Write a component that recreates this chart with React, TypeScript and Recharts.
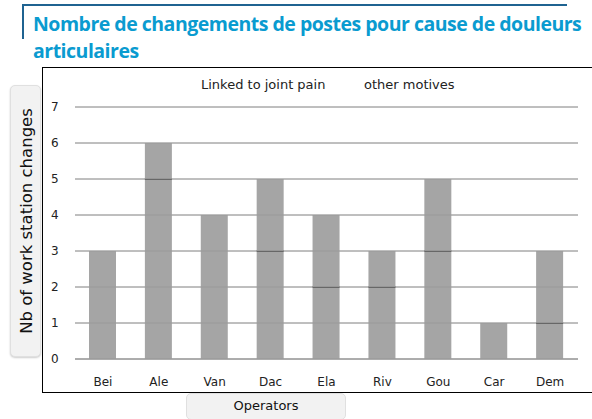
import React from "react";
import { BarChart, Bar, XAxis, YAxis, CartesianGrid } from "recharts";

const operators = ["Bei", "Ale", "Van", "Dac", "Ela", "Riv", "Gou", "Car", "Dem"];
const jointPain = [3, 5, 4, 3, 2, 2, 3, 1, 1];
const otherMotives = [0, 1, 0, 2, 2, 1, 2, 0, 2];
const yTicks = [0, 1, 2, 3, 4, 5, 6, 7];
const seriesNames = ["Linked to joint pain", "other motives"];

const data = operators.map((name, i) => ({
  name,
  joint: jointPain[i],
  other: otherMotives[i],
}));

const BAR = "#9b9b9b";
const FONT = "'DejaVu Sans', Verdana, sans-serif";

// bottom segment: gray block with a dark edge where the upper segment starts
const JointShape = (props: any) => {
  const { x, y, width, height, payload } = props;
  if (!height) return null;
  return (
    <g>
      <rect x={x} y={y} width={width} height={height} fill={BAR} fillOpacity={0.9} />
      {payload.other > 0 && (
        <line x1={x} x2={x + width} y1={y} y2={y} stroke="#555" strokeWidth={1.5} />
      )}
    </g>
  );
};

const OtherShape = (props: any) => {
  const { x, y, width, height } = props;
  if (!height) return null;
  return <rect x={x} y={y} width={width} height={height} fill={BAR} fillOpacity={0.9} />;
};

export default function App() {
  return (
    <div style={{ position: "absolute", left: 0, top: 0, width: 592, height: 419, background: "#fff", overflow: "hidden" }}>
      {/* title frame */}
      <div style={{ position: "absolute", left: 22, top: 4, width: 543, height: 33, borderTop: "2px solid #1f6391", borderLeft: "2px solid #1f6391" }} />
      <div
        style={{
          position: "absolute",
          left: 33,
          top: 10,
          width: 570,
          fontFamily: "'Open Sans', sans-serif",
          fontWeight: 700,
          fontSize: 19.5,
          lineHeight: "27px",
          color: "#0a9bd0",
          letterSpacing: -0.5,
        }}
      >
        Nombre de changements de postes pour cause de douleurs articulaires
      </div>

      {/* chart frame */}
      <div style={{ position: "absolute", left: 42, top: 67, width: 560, height: 324, borderTop: "1px solid #000", borderLeft: "1px solid #000", borderBottom: "1px solid #000" }} />

      {/* legend */}
      <div style={{ position: "absolute", left: 201, top: 77, fontFamily: FONT, fontSize: 13, color: "#222", whiteSpace: "nowrap" }}>
        {seriesNames[0]}
      </div>
      <div style={{ position: "absolute", left: 364, top: 77, fontFamily: FONT, fontSize: 13, color: "#222", whiteSpace: "nowrap" }}>
        {seriesNames[1]}
      </div>

      {/* y axis label box */}
      <div
        style={{
          position: "absolute",
          left: 10,
          top: 85,
          width: 31,
          height: 272,
          background: "#f2f2f2",
          border: "1px solid #e0e0e0",
          borderRadius: 5,
          boxShadow: "0 1px 2px rgba(0,0,0,0.2)",
          boxSizing: "border-box",
        }}
      >
        <div
          style={{
            position: "absolute",
            left: 15,
            top: 135,
            transform: "translate(-50%, -50%) rotate(-90deg)",
            whiteSpace: "nowrap",
            fontFamily: FONT,
            fontSize: 16.5,
            color: "#111",
          }}
        >
          Nb of work station changes
        </div>
      </div>

      {/* x axis label box */}
      <div
        style={{
          position: "absolute",
          left: 186,
          top: 393,
          width: 160,
          height: 27,
          background: "#f2f2f2",
          border: "1px solid #e0e0e0",
          borderRadius: 5,
          boxSizing: "border-box",
          textAlign: "center",
          lineHeight: "24px",
          fontFamily: FONT,
          fontSize: 13,
          color: "#111",
        }}
      >
        Operators
      </div>

      <div style={{ position: "absolute", left: 0, top: 0 }}>
        <BarChart width={592} height={419} data={data} margin={{ top: 107, right: 14, left: 45, bottom: 30 }}>
          <CartesianGrid vertical={false} stroke="#7f7f7f" strokeWidth={1} />
          <XAxis
            dataKey="name"
            axisLine={{ stroke: "#9a9a9a" }}
            tickLine={false}
            height={30}
            tickMargin={12}
            tick={{ fontFamily: FONT, fontSize: 12, fill: "#222" }}
          />
          <YAxis
            domain={[0, 7]}
            ticks={yTicks}
            width={30}
            axisLine={false}
            tickLine={false}
            tick={{ fontFamily: FONT, fontSize: 12, fill: "#222", textAnchor: "start" }}
            tickMargin={0}
            dx={-18}
          />
          <Bar dataKey="joint" name={seriesNames[0]} stackId="a" barSize={27} shape={<JointShape />} isAnimationActive={false} />
          <Bar dataKey="other" name={seriesNames[1]} stackId="a" barSize={27} shape={<OtherShape />} isAnimationActive={false} />
        </BarChart>
      </div>
    </div>
  );
}
